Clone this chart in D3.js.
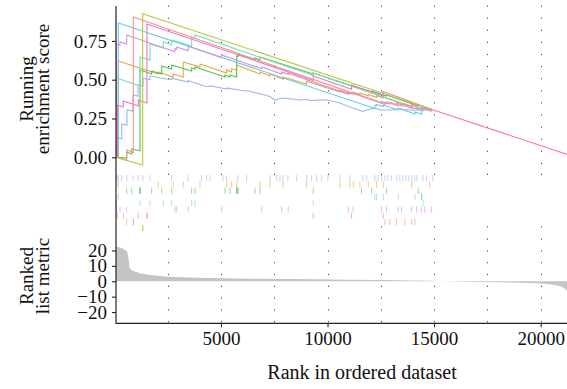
<!DOCTYPE html>
<html><head><meta charset="utf-8">
<script src="https://cdn.jsdelivr.net/npm/d3@7"></script>
<style>
body{margin:0;background:#fff}
svg{display:block}
text{font-family:"Liberation Serif","Times New Roman",serif;fill:#111}
</style>
</head><body>
<svg id="c" width="567" height="389"></svg>
<script>
// ---------------- data ----------------
const seriesNames = ["blue","orange","green","cyan","teal","violet","pink","salmon","yellowgreen"];
const seriesColors = ["#9fb6e6","#e6a83c","#52c452","#66cbea","#70dec2","#d98ee4","#ee78bf","#f89090","#b7c73c"];

const esBlue = [[75,0],[169,0.008],[169,0.124],[342,0.118],[342,0.215],[591,0.208],[591,0.305],[872,0.298],[872,0.401],[1107,0.395],[1107,0.466],[1341,0.459],[1341,0.51],[1670,0.50],[1670,0.525],[2139,0.511],[2687,0.50],[2687,0.51],[3452,0.485],[3452,0.495],[4249,0.458],[4484,0.456],[4484,0.46],[5093,0.445],[5267,0.44],[5267,0.447],[6125,0.427],[6205,0.43],[7063,0.401],[7303,0.39],[7532,0.369],[7611,0.372],[7907,0.382],[8142,0.378],[8329,0.376],[8705,0.369],[9019,0.372],[9253,0.366],[9723,0.37],[9971,0.369],[10581,0.350],[11050,0.324],[11659,0.295],[11847,0.305],[12222,0.318],[12457,0.305],[12926,0.305],[13395,0.311],[13864,0.305],[14333,0.305],[14896,0.308]];
const esOrange = [[75,0],[183,0.002],[183,0.62],[2059,0.537],[2059,0.549],[2762,0.517],[2762,0.537],[3231,0.517],[3231,0.614],[4015,0.582],[4015,0.601],[5267,0.543],[5267,0.563],[5501,0.549],[5501,0.569],[5736,0.563],[5736,0.595],[6829,0.537],[6829,0.549],[7298,0.524],[7298,0.537],[7921,0.504],[7921,0.517],[9019,0.472],[9019,0.49],[10581,0.42],[10581,0.432],[11050,0.41],[11050,0.418],[11204,0.411],[11204,0.42],[11519,0.405],[11519,0.414],[11908,0.396],[11908,0.405],[12302,0.387],[12302,0.396],[12612,0.382],[12612,0.39],[13943,0.328],[13943,0.336],[14802,0.30],[14802,0.31],[14896,0.308]];
const esGreen = [[75,0],[577,-0.005],[577,0.034],[811,0.021],[811,0.053],[1201,0.041],[1201,0.563],[1749,0.537],[1749,0.556],[2218,0.537],[2218,0.589],[2687,0.569],[2687,0.595],[3625,0.556],[3625,0.575],[3780,0.569],[3780,0.582],[5187,0.517],[5187,0.530],[5422,0.517],[5422,0.530],[5736,0.517],[5736,0.653],[5811,0.650],[5811,0.666],[6594,0.627],[6594,0.640],[6829,0.627],[6829,0.646],[9328,0.537],[9328,0.543],[11598,0.440],[11598,0.443],[12067,0.421],[12067,0.427],[12771,0.395],[12771,0.401],[14253,0.331],[14253,0.337],[14896,0.308]];
const esCyan = [[75,0],[183,0.001],[183,0.865],[12222,0.314],[12222,0.337],[12302,0.334],[12302,0.340],[12612,0.327],[12612,0.337],[13315,0.305],[13315,0.318],[14099,0.279],[14099,0.292],[14413,0.279],[14413,0.321],[14896,0.308]];
const esTeal = [[75,0],[98,0],[98,0.511],[1201,0.459],[1201,0.646],[1670,0.627],[1670,0.730],[2293,0.704],[2293,0.743],[2687,0.724],[2687,0.756],[3625,0.717],[3625,0.775],[3780,0.769],[3780,0.788],[9328,0.527],[9328,0.543],[14488,0.298],[14488,0.327],[14896,0.308]];
const esViolet = [[75,0],[98,0],[98,0.730],[263,0.724],[263,0.743],[577,0.730],[577,0.788],[2842,0.680],[2842,0.701],[2922,0.697],[2922,0.711],[3466,0.686],[3466,0.717],[5032,0.641],[5032,0.659],[6908,0.570],[6908,0.582],[7846,0.537],[7846,0.550],[8156,0.536],[8156,0.541],[10970,0.407],[10970,0.418],[11204,0.407],[11204,0.416],[12536,0.351],[12536,0.360],[12771,0.349],[12771,0.356],[13315,0.332],[13315,0.340],[13474,0.331],[13474,0.338],[13943,0.316],[13943,0.322],[14177,0.311],[14177,0.318],[14413,0.307],[14413,0.313],[14568,0.307],[14568,0.313],[14881,0.298],[14881,0.308]];
const esPink = [[75,0],[145,0],[145,0.337],[417,0.324],[417,0.363],[1121,0.331],[1121,0.369],[1529,0.350],[1529,0.859],[9328,0.495],[9328,0.524],[11129,0.438],[11129,0.466],[12612,0.395],[12612,0.424],[14896,0.308],[21650,0.0]];
const esSalmon = [[75,0],[577,-0.021],[577,0.047],[886,0.031],[886,0.904],[12691,0.341],[12691,0.353],[12926,0.342],[12926,0.354],[13240,0.339],[13240,0.351],[13630,0.332],[13630,0.343],[13943,0.329],[13943,0.340],[14099,0.333],[14099,0.345],[14896,0.308]];
const esYellowGreen = [[75,0],[1327,-0.05],[1327,0.925],[14896,0.308]];

const hitsBlue = [122,169,342,591,872,1107,1341,1670,2687,3452,4094,4329,4484,5093,5267,5797,6205,7303,7611,7767,7907,8142,8550,9019,9253,9488,9723,10018,10581,11050,11659,11833,12222,12363,12536,12691,12832,13005,13254,13395,13536,13676,13817,13958,14099,14193,14474,14647,14943];
const hitsOrange = [183,2059,2762,3231,4015,5267,5501,5736,6829,7298,7921,9019,10581,11050,11204,11519,11908,12302,12612,13943,14802];
const hitsGreen = [577,811,1195,1201,1210,1749,2218,2687,3625,3780,5187,5422,5736,5745,5760,5811,6594,6829,9328,11598,12067,12771,14253];
const hitsCyan = [183,12222,12302,12612,13315,14099,14413,14420];
const hitsTeal = [98,1201,1670,2293,2687,3625,3780,9328,14488];
const hitsViolet = [98,263,577,2842,2922,3466,5032,6908,7846,8156,10970,11204,12536,12771,13315,13474,13943,14177,14413,14568,14881];
const hitsPink = [145,417,1121,1529,1540,9328,11129,12612];
const hitsSalmon = [577,886,895,12691,12926,13240,13630,13943,14099];
const hitsYellowGreen = [1327,1335];

const metricRank = [75,300,500,600,660,720,850,1200,1700,2500,3500,5000,6500,8000,9500,11000,12500,14000,14950,15000,16000,17000,18000,19000,19800,20300,20700,21000,21150,21300,21650];
const metricValue = [22.5,21.8,20.5,19.2,15,8.5,6.8,5.2,4.0,3.0,2.4,2.0,1.7,1.45,1.25,1.0,0.75,0.5,0.3,-0.05,-0.2,-0.4,-0.6,-0.9,-1.3,-1.8,-2.5,-3.5,-5,-7,-20];

const rankTicks = [5000,10000,15000,20000];
const gridRanks = [2500,5000,7500,10000,12500,15000,17500,20000];
const esTicks = [0,0.25,0.5,0.75];
const metricTicks = [20,10,0,-10,-20];
const yTitleTop = ["Running","enrichment score"];
const yTitleBottom = ["Ranked","list metric"];
const xTitle = "Rank in ordered dataset";

const esSeries = [esBlue,esOrange,esGreen,esCyan,esTeal,esViolet,esPink,esSalmon,esYellowGreen];
const hitSeries = [hitsBlue,hitsOrange,hitsGreen,hitsCyan,hitsTeal,hitsViolet,hitsPink,hitsSalmon,hitsYellowGreen];

// ---------------- layout ----------------
const svg = d3.select("#c");
const plotLeft = 116, plotRight = 567;
const topY0 = 6, topY1 = 172.8, rugY0 = 175, rowH = 6.28, botY0 = 240, botY1 = 323.3;
const FS = 19, FT = 20;

const x = d3.scaleLinear().domain([0,21236]).range([114.4,567]);
const yES = d3.scaleLinear().domain([-0.1,0.975]).range([topY1, topY0]);
const yM = d3.scaleLinear().domain([-27.3,26.8]).range([botY1, botY0]);

svg.append("defs").append("clipPath").attr("id","clip")
  .append("rect").attr("x",plotLeft).attr("y",0).attr("width",plotRight-plotLeft).attr("height",389);

// dotted vertical grid per panel
const grid = svg.append("g").attr("stroke","#444").attr("stroke-width",1);
const gridPanels = [[5.5,172.7,"1.2 10.9"],[173.8,240,"1.2 51.2"],[238.5,323,"1.2 10.6"]];
gridPanels.forEach(p=>{
  grid.selectAll(null).data(gridRanks).enter().append("line")
    .attr("x1",d=>Math.round(x(d))+0.5).attr("x2",d=>Math.round(x(d))+0.5)
    .attr("y1",p[0]).attr("y2",p[1]).attr("stroke-dasharray",p[2]);
});

const plotG = svg.append("g").attr("clip-path","url(#clip)");

// ranked list metric
const metric = metricRank.map((r,i)=>[r,metricValue[i]]);
plotG.append("path").datum(metric)
  .attr("fill","#c6c3c3")
  .attr("d", d3.area().x(d=>x(d[0])).y0(yM(0)).y1(d=>yM(d[1])));

// rug rows
hitSeries.forEach((hits,i)=>{
  plotG.append("g").selectAll("line").data(hits).enter().append("line")
    .attr("x1",d=>x(d)).attr("x2",d=>x(d))
    .attr("y1",rugY0+i*rowH).attr("y2",rugY0+(i+1)*rowH)
    .attr("stroke",seriesColors[i]).attr("stroke-width",1).attr("stroke-opacity",0.6);
});

// running ES lines
const line = d3.line().x(d=>x(d[0])).y(d=>yES(d[1]));
esSeries.forEach((s,i)=>{
  plotG.append("path").datum(s)
    .attr("fill","none").attr("stroke",seriesColors[i]).attr("stroke-width",1.1)
    .attr("d",line);
});

// axes
const axG = svg.append("g");
axG.append("line").attr("x1",plotLeft).attr("x2",plotLeft).attr("y1",topY0).attr("y2",botY1+0.6)
  .attr("stroke","#222").attr("stroke-width",1.2);
axG.append("line").attr("x1",plotLeft).attr("x2",plotRight).attr("y1",botY1).attr("y2",botY1)
  .attr("stroke","#222").attr("stroke-width",1.2);

function styleAxis(g){
  g.select(".domain").remove();
  g.selectAll(".tick line").attr("stroke","#222").attr("stroke-width",1.1);
  g.selectAll(".tick text").attr("font-size",FS).attr("font-family",'"Liberation Serif",serif').attr("fill","#111");
}
svg.append("g").attr("transform",`translate(${plotLeft},0)`)
  .call(d3.axisLeft(yES).tickValues(esTicks).tickFormat(d3.format(".2f")).tickSize(4).tickPadding(5))
  .call(styleAxis);
svg.append("g").attr("transform",`translate(${plotLeft},0)`)
  .call(d3.axisLeft(yM).tickValues(metricTicks).tickFormat(d=>d<0?"\u2212"+Math.abs(d):String(d)).tickSize(4).tickPadding(5))
  .call(styleAxis);
svg.append("g").attr("transform",`translate(0,${botY1})`)
  .call(d3.axisBottom(x).tickValues(rankTicks).tickFormat(d3.format("d")).tickSize(4).tickPadding(4))
  .call(styleAxis);

// titles
[32.5,48.5].forEach((bx,i)=>{
  svg.append("text").attr("transform",`translate(${bx},89) rotate(-90)`)
    .attr("text-anchor","middle").attr("font-size",FS).text(yTitleTop[i]);
  svg.append("text").attr("transform",`translate(${bx},276) rotate(-90)`)
    .attr("text-anchor","middle").attr("font-size",FS).text(yTitleBottom[i]);
});
svg.append("text").attr("x",362).attr("y",378.5).attr("text-anchor","middle")
  .attr("font-size",FT).text(xTitle);
</script>
</body></html>
